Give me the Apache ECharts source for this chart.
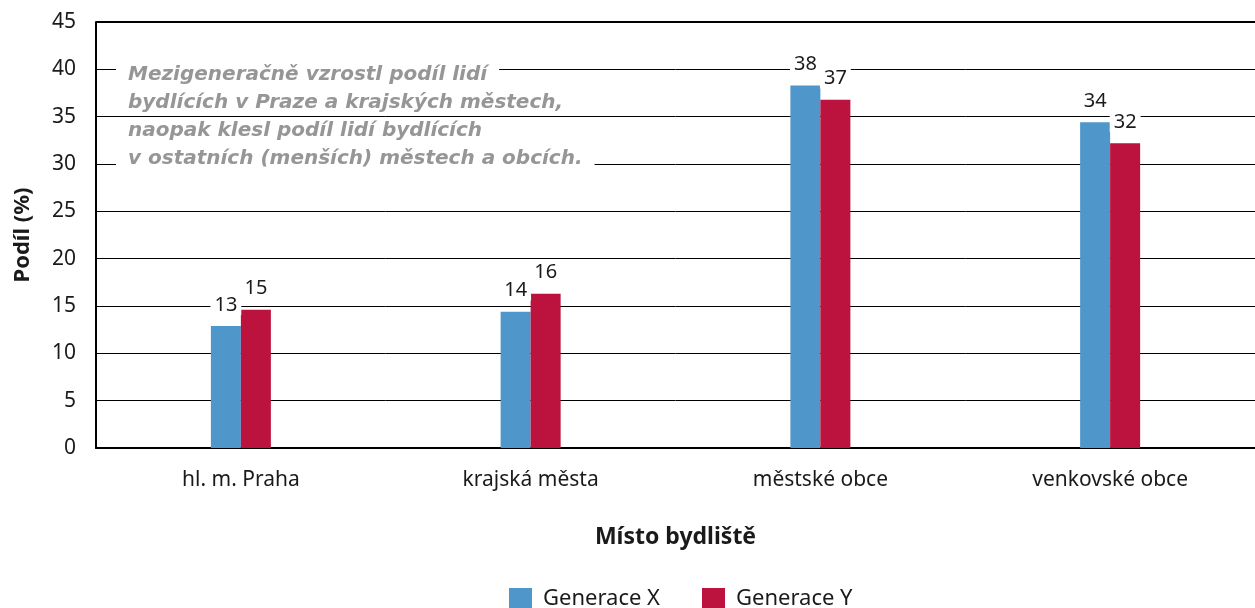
<!DOCTYPE html>
<html>
<head>
<meta charset="utf-8">
<script src="https://cdn.jsdelivr.net/npm/echarts@6/dist/echarts.min.js"></script>
<style>
  html, body { margin: 0; padding: 0; background: #fff; }
  #chart { width: 1255px; height: 608px; }
</style>
</head>
<body>
<div id="chart"></div>
<script>
const categories = ['hl. m. Praha', 'krajská města', 'městské obce', 'venkovské obce']
const genX = [12.9, 14.4, 38.3, 34.4]
const genY = [14.6, 16.3, 36.8, 32.2]
const yTicks = { min: 0, max: 45, interval: 5 }
const note = [
  'Mezigeneračně vzrostl podíl lidí',
  'bydlících v Praze a krajských městech,',
  'naopak klesl podíl lidí bydlících',
  'v ostatních (menších) městech a obcích.'
]

const baseFont = 'Noto Sans'
const chart = echarts.init(document.getElementById('chart'))

const label = {
  show: true,
  position: 'top',
  distance: 11,
  color: '#1a1a1a',
  fontFamily: baseFont,
  fontSize: 20,
  backgroundColor: '#fff',
  padding: [0, 4],
  formatter: p => Math.round(p.value)
}

chart.setOption({
  animation: false,
  textStyle: { fontFamily: baseFont },
  grid: { left: 96, right: 0, top: 22, bottom: 160 },
  legend: {
    top: 583,
    left: 504,
    itemWidth: 23,
    itemHeight: 22,
    itemGap: 42,
    icon: 'rect',
    textStyle: { fontSize: 22, color: '#1a1a1a', fontFamily: baseFont, padding: [0, 0, 0, 6] },
    data: ['Generace X', 'Generace Y']
  },
  xAxis: {
    type: 'category',
    data: categories,
    name: 'Místo bydliště',
    nameLocation: 'middle',
    nameGap: 78,
    nameTextStyle: { fontSize: 23, fontWeight: 'bold', color: '#1a1a1a' },
    axisLine: { lineStyle: { color: '#000', width: 2 } },
    axisTick: { show: false },
    axisLabel: { fontSize: 21, color: '#1a1a1a', margin: 22 }
  },
  yAxis: {
    type: 'value',
    min: yTicks.min,
    max: yTicks.max,
    interval: yTicks.interval,
    name: 'Podíl (%)',
    nameLocation: 'middle',
    nameGap: 62,
    nameTextStyle: { fontSize: 22, fontWeight: 'bold', color: '#1a1a1a' },
    axisLine: { show: true, lineStyle: { color: '#000', width: 2 } },
    axisTick: { show: false },
    axisLabel: { fontSize: 21, color: '#1a1a1a', margin: 20 },
    splitLine: { lineStyle: { color: '#000', width: 1 } }
  },
  series: [
    {
      name: 'Generace X',
      type: 'bar',
      data: genX,
      barWidth: 30,
      barGap: '0%',
      itemStyle: { color: '#4f96cb' },
      label
    },
    {
      name: 'Generace Y',
      type: 'bar',
      data: genY,
      barWidth: 30,
      itemStyle: { color: '#bb133e' },
      label
    }
  ],
  graphic: [
    // top border of plot area
    { type: 'line', shape: { x1: 96, y1: 22, x2: 1255, y2: 22 }, style: { stroke: '#000', lineWidth: 2 }, silent: true },
    ...note.map((t, i) => ({
      type: 'text',
      left: 116,
      top: 63 + i * 28,
      z: 100,
      style: {
        text: t,
        fill: '#969696',
        font: 'italic bold 20px "DejaVu Sans"',
        backgroundColor: '#fff',
        padding: [2, 12]
      }
    }))
  ]
})
</script>
</body>
</html>
